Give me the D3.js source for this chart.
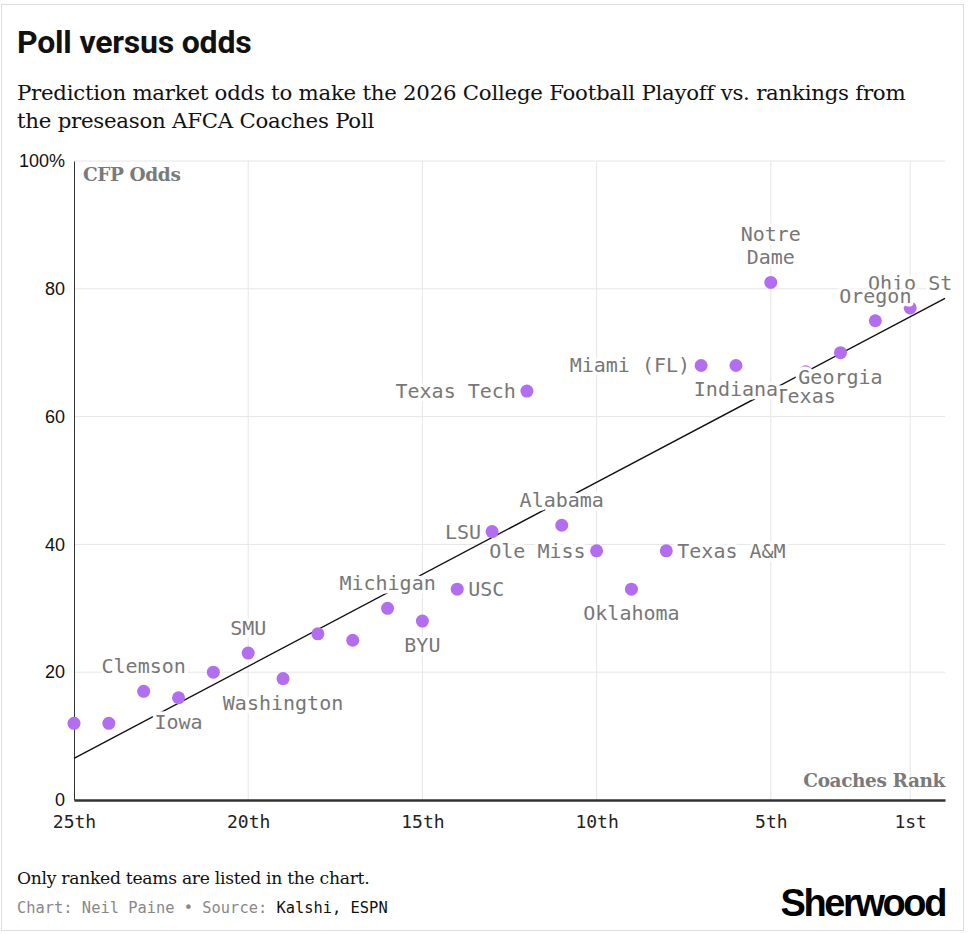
<!DOCTYPE html>
<html>
<head>
<meta charset="utf-8">
<script src="https://cdn.jsdelivr.net/npm/d3@7"></script>
<style>
  body { margin: 0; background: #fff; }
  .label { font-family: "DejaVu Sans Mono", monospace; font-size: 20px; fill: #777; paint-order: stroke; stroke: #fff; stroke-width: 7px; stroke-linejoin: round; }
</style>
</head>
<body>
<div id="chart"></div>
<script>
// coaches poll rank, CFP odds (%) and team names
const ranks = [1, 2, 3, 4, 5, 6, 7, 8, 9, 10, 11, 12, 13, 14, 15, 16, 17, 18, 19, 20, 21, 22, 23, 24, 25];
const odds = [77, 75, 70, 67, 81, 68, 68, 39, 33, 39, 43, 64, 42, 33, 28, 30, 25, 26, 19, 23, 20, 16, 17, 12, 12];
const teams = ["Ohio St", "Oregon", "Georgia", "Texas", "Notre Dame", "Indiana", "Miami (FL)", "Texas A&M",
    "Oklahoma", "Ole Miss", "Alabama", "Texas Tech", "LSU", "USC", "BYU", "Michigan", "", "", "Washington",
    "SMU", "", "Iowa", "Clemson", "", ""];
const labelSide = ["top", "top", "bottom", "bottom", "top", "bottom", "left", "right",
    "bottom", "left", "top", "left", "left", "right", "bottom", "top", "", "", "bottom",
    "top", "", "bottom", "top", "", ""];
const xTicks = [25, 20, 15, 10, 5, 1];
const xTickLabels = ["25th", "20th", "15th", "10th", "5th", "1st"];
const yTicks = [0, 20, 40, 60, 80, 100];

const width = 969, height = 934;
const margin = { left: 74, right: 24, top: 161, bottom: 134 };

const svg = d3.select("#chart").append("svg")
    .attr("width", width)
    .attr("height", height);

// outer frame
svg.append("rect")
    .attr("x", 1.5).attr("y", 4.5)
    .attr("width", 962).attr("height", 926)
    .attr("fill", "none")
    .attr("stroke", "#ddd");

svg.append("text")
    .attr("x", 17).attr("y", 53)
    .style("font-family", "Roboto, sans-serif")
    .style("font-weight", 700)
    .style("font-size", "32px")
    .style("letter-spacing", "-0.2px")
    .attr("fill", "#111")
    .text("Poll versus odds");

const subtitle = ["Prediction market odds to make the 2026 College Football Playoff vs. rankings from",
    "the preseason AFCA Coaches Poll"];
svg.selectAll(".subtitle")
    .data(subtitle)
    .enter().append("text")
    .attr("class", "subtitle")
    .attr("x", 17)
    .attr("y", (d, i) => 100 + i * 28)
    .style("font-family", "'DejaVu Serif', serif")
    .style("font-size", "21.3px")
    .style("letter-spacing", "-0.25px")
    .attr("fill", "#111")
    .text(d => d);

const x = d3.scaleLinear()
    .domain([25, 0])
    .range([margin.left, width - margin.right]);

const y = d3.scaleLinear()
    .domain([0, 100])
    .range([height - margin.bottom, margin.top]);

// grid
svg.append("g")
    .selectAll("line")
    .data(yTicks.filter(d => d > 0))
    .enter().append("line")
    .attr("x1", x(25)).attr("x2", x(0))
    .attr("y1", d => y(d)).attr("y2", d => y(d))
    .attr("stroke", "#e6e6e6");

svg.append("g")
    .selectAll("line")
    .data(xTicks.filter(d => d !== 25))
    .enter().append("line")
    .attr("x1", d => x(d)).attr("x2", d => x(d))
    .attr("y1", y(0)).attr("y2", y(100))
    .attr("stroke", "#e6e6e6");

// axes
const yAxis = svg.append("g")
    .attr("transform", `translate(${x(25)},0)`)
    .call(d3.axisLeft(y).tickValues(yTicks).tickSize(0).tickPadding(9)
        .tickFormat(d => d === 100 ? "100%" : d));
yAxis.select(".domain").attr("stroke", "#333");
yAxis.selectAll("text")
    .style("font-family", "'Liberation Sans', sans-serif")
    .style("font-size", "18px")
    .attr("fill", "#111");

const xAxis = svg.append("g")
    .attr("transform", `translate(0,${y(0)})`)
    .call(d3.axisBottom(x).tickValues(xTicks).tickSize(0).tickPadding(15)
        .tickFormat((d, i) => xTickLabels[i]));
xAxis.select(".domain").attr("stroke", "#333").attr("stroke-width", 2.5);
xAxis.selectAll("text")
    .style("font-family", "'DejaVu Sans Mono', monospace")
    .style("font-size", "18px")
    .attr("fill", "#222");

svg.append("text")
    .attr("x", x(25) + 9).attr("y", y(100) + 20)
    .style("font-family", "'DejaVu Serif', serif")
    .style("font-weight", 700)
    .style("font-size", "18.5px")
    .style("letter-spacing", "-0.4px")
    .attr("fill", "#7a7a7a")
    .text("CFP Odds");

svg.append("text")
    .attr("x", x(0)).attr("y", y(0) - 13)
    .attr("text-anchor", "end")
    .style("font-family", "'DejaVu Serif', serif")
    .style("font-weight", 700)
    .style("font-size", "18.5px")
    .style("letter-spacing", "-0.4px")
    .attr("fill", "#7a7a7a")
    .text("Coaches Rank");

// least squares trend line
const points = ranks.map((r, i) => ({ rank: r, odds: odds[i], team: teams[i], side: labelSide[i] }));
const mr = d3.mean(points, d => d.rank), mo = d3.mean(points, d => d.odds);
const slope = d3.sum(points, d => (d.rank - mr) * (d.odds - mo)) / d3.sum(points, d => (d.rank - mr) ** 2);
const fit = r => mo + slope * (r - mr);

svg.append("line")
    .attr("x1", x(25)).attr("y1", y(fit(25)))
    .attr("x2", x(0)).attr("y2", y(fit(0)))
    .attr("stroke", "#111")
    .attr("stroke-width", 1.4);

svg.append("g")
    .selectAll("circle")
    .data(points)
    .enter().append("circle")
    .attr("cx", d => x(d.rank))
    .attr("cy", d => y(d.odds))
    .attr("r", 6.5)
    .attr("fill", "#b36ef0");

const labels = svg.append("g")
    .selectAll("text")
    .data(points.filter(d => d.team))
    .enter().append("text")
    .attr("class", "label")
    .attr("x", d => x(d.rank) + (d.side === "left" ? -11 : d.side === "right" ? 11 : 0))
    .attr("y", d => y(d.odds) + (d.side === "top" ? -18 : d.side === "bottom" ? 31 : 7))
    .attr("text-anchor", d => d.side === "left" ? "end" : d.side === "right" ? "start" : "middle");

labels.each(function(d) {
    const words = d.team === "Notre Dame" ? ["Notre", "Dame"] : [d.team];
    const t = d3.select(this);
    words.forEach((w, i) => {
        t.append("tspan")
            .attr("x", t.attr("x"))
            .attr("dy", i === 0 ? -(words.length - 1) * 23 : 23)
            .text(w);
    });
});

// footer
svg.append("text")
    .attr("x", 17).attr("y", 884)
    .style("font-family", "'DejaVu Serif', serif")
    .style("font-size", "17.2px")
    .style("letter-spacing", "-0.3px")
    .attr("fill", "#111")
    .text("Only ranked teams are listed in the chart.");

const source = svg.append("text")
    .attr("x", 17).attr("y", 913)
    .style("font-family", "'DejaVu Sans Mono', monospace")
    .style("font-size", "15.4px")
    .attr("fill", "#888");
source.append("tspan").text("Chart: Neil Paine • Source: ");
source.append("tspan").attr("fill", "#111").text("Kalshi, ESPN");

svg.append("text")
    .attr("x", 945).attr("y", 916)
    .attr("text-anchor", "end")
    .style("font-family", "'Liberation Sans', sans-serif")
    .style("font-weight", 700)
    .style("font-size", "38px")
    .style("letter-spacing", "-2.4px")
    .attr("fill", "#000")
    .text("Sherwood");
</script>
</body>
</html>
